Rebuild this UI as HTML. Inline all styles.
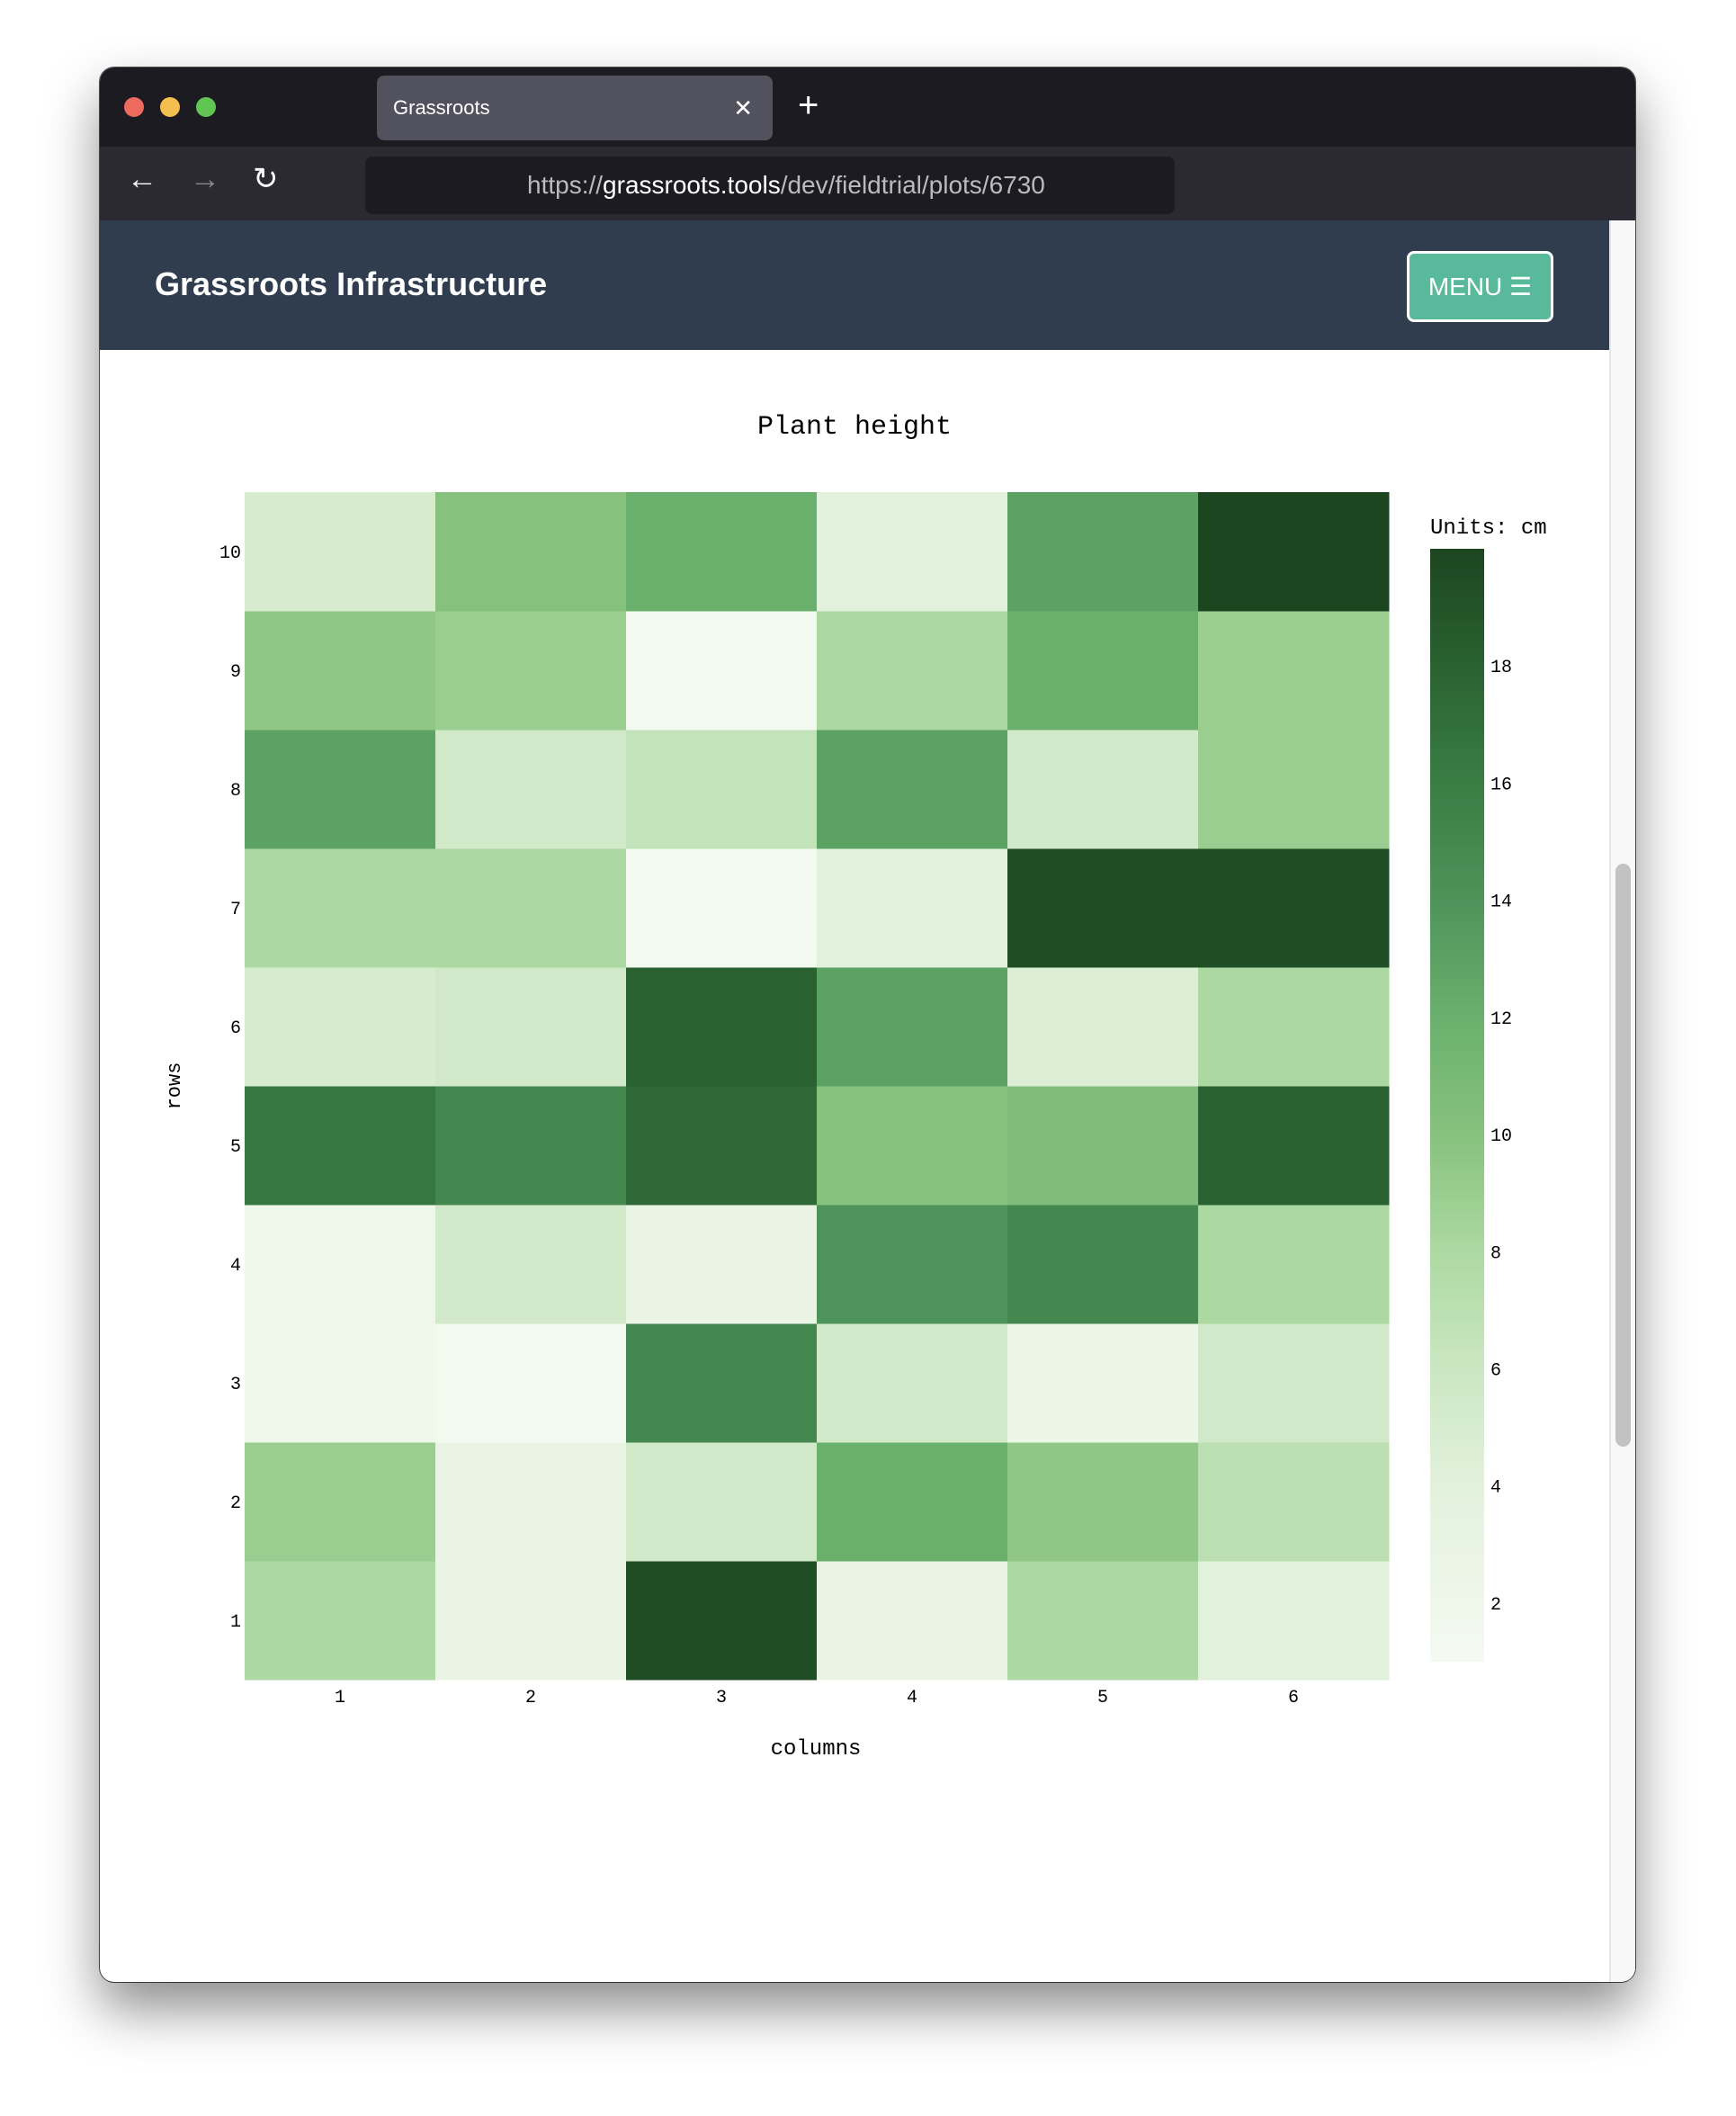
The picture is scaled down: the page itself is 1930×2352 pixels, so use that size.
<!DOCTYPE html>
<html><head><meta charset="utf-8"><style>
body{margin:0;width:1930px;height:2352px;background:#fff;position:relative;overflow:hidden;font-family:"Liberation Sans",sans-serif}
.abs{position:absolute}
#win{left:111px;top:75px;width:1707px;height:2128px;border-radius:16px;background:#fff;box-shadow:0 30px 60px rgba(0,0,0,.45),0 0 0 1px #555;overflow:hidden}
.mono{font-family:"Liberation Mono",monospace;color:#222}
</style></head><body>
<div id="win" class="abs">
 <div class="abs" style="left:0;top:0;width:1707px;height:88px;background:#1c1b22"></div>
 <div class="abs" style="left:27px;top:33px;width:22px;height:22px;border-radius:50%;background:#ed6a5e"></div>
 <div class="abs" style="left:67px;top:33px;width:22px;height:22px;border-radius:50%;background:#f4bf4f"></div>
 <div class="abs" style="left:107px;top:33px;width:22px;height:22px;border-radius:50%;background:#61c554"></div>
 <div class="abs" style="left:308px;top:9px;width:440px;height:72px;border-radius:8px;background:#52515e;color:#fff;font-size:22px;line-height:72px;text-indent:18px">Grassroots<span style="position:absolute;right:22px;font-size:26px">✕</span></div>
 <div class="abs" style="left:776px;top:20px;color:#fff;font-size:40px">+</div>
 <div class="abs" style="left:0;top:88px;width:1707px;height:82px;background:#2b2a33"></div>
 <div class="abs" style="left:30px;top:104px;color:#fbfbfe;font-size:34px;letter-spacing:36px">←<span style="color:#888">→</span>↻</div>
 <div class="abs" style="left:295px;top:99px;width:900px;height:64px;border-radius:8px;background:#1c1b22;color:#bbb;font-size:28px;line-height:64px;text-indent:180px;white-space:nowrap;overflow:hidden">https://<span style="color:#fff">grassroots.tools</span>/dev/fieldtrial/plots/6730</div>
 <div class="abs" style="left:0;top:170px;width:1678px;height:144px;background:#2f3d4f"></div>
 <div class="abs" style="left:61px;top:220px;color:#fff;font-size:36px;font-weight:bold">Grassroots Infrastructure</div>
 <div class="abs" style="left:1453px;top:204px;width:157px;height:73px;border:3px solid #fff;border-radius:8px;background:#58ba9b;color:#fff;font-size:28px;line-height:73px;text-align:center">MENU ☰</div>
 <div class="abs" style="left:1678px;top:170px;width:29px;height:1958px;background:#f8f8f8;border-left:2px solid #e6e6e6"></div>
 <div class="abs" style="left:1685px;top:885px;width:17px;height:648px;border-radius:9px;background:#c2c2c2"></div>
</div>
<svg class="abs" style="left:0;top:0" width="1930" height="2352">
 <defs><linearGradient id="cb" x1="0" y1="1" x2="0" y2="0">
 <stop offset="0" stop-color="#f5faf2"/><stop offset="0.16" stop-color="#e2f1dc"/><stop offset="0.27" stop-color="#c9e6c0"/><stop offset="0.37" stop-color="#acd9a1"/><stop offset="0.47" stop-color="#88c27f"/><stop offset="0.58" stop-color="#6ab06d"/><stop offset="0.68" stop-color="#4f945a"/><stop offset="0.79" stop-color="#3a7d44"/><stop offset="0.9" stop-color="#296030"/><stop offset="1" stop-color="#1c4620"/></linearGradient></defs>
 <text x="950" y="482" text-anchor="middle" class="mono" style="font-size:30px">Plant height</text>
 <g id="cells"></g><g id="ticks"></g>
 <text transform="translate(200,1207) rotate(-90)" text-anchor="middle" class="mono" style="font-size:22px">rows</text>
 <text x="907" y="1950" text-anchor="middle" class="mono" style="font-size:24px">columns</text>
 <text x="1590" y="593" class="mono" style="font-size:24px">Units: cm</text>
 <rect x="1590" y="610" width="60" height="1237" fill="url(#cb)"/>
 <g id="cbticks"></g>
</svg>
<script>
const columns=[1,2,3,4,5,6];
const rows=[1,2,3,4,5,6,7,8,9,10];
// values[rowIndex] for rows 1..10, columns 1..6
const values=[
 [8,3,19.5,3,8,4],
 [9,3,5.5,12,9.5,7],
 [2,1.5,15,5.5,2.5,5.5],
 [2,5.5,3,14,15,8],
 [16.5,15,17.5,10,10.5,18],
 [5,5.5,18,13,4.5,8],
 [8,8,1.5,4,19.5,19.5],
 [13,5.5,6.5,13,5.5,9],
 [9.5,9,1.5,8,12,9],
 [5,10,12,4,13,20]
];
const cbTicks=[2,4,6,8,10,12,14,16,18];
const zmin=1,zmax=20;
const X0=272,X1=1544,Y0=547,Y1=1867,CB0=610,CB1=1847;
const stops=[[0,[245,250,242]],[0.16,[226,241,220]],[0.27,[201,230,192]],[0.37,[172,217,161]],[0.47,[136,194,127]],[0.58,[106,176,109]],[0.68,[79,148,90]],[0.79,[58,125,68]],[0.9,[41,96,48]],[1,[28,70,32]]];
function color(v){let t=Math.max(0,Math.min(1,(v-zmin)/(zmax-zmin)));for(let i=1;i<stops.length;i++){if(t<=stops[i][0]){const a=stops[i-1],b=stops[i],f=(t-a[0])/(b[0]-a[0]);return 'rgb('+a[1].map((c,k)=>Math.round(c+(b[1][k]-c)*f)).join(',')+')';}}return 'rgb(28,70,32)';}
const cw=(X1-X0)/columns.length,rh=(Y1-Y0)/rows.length;
const xPos=c=>X0+(c-1)*cw, yPos=r=>Y1-r*rh, cbY=v=>CB1-(v-zmin)/(zmax-zmin)*(CB1-CB0);
const NS='http://www.w3.org/2000/svg';
const cells=document.getElementById('cells'),ticks=document.getElementById('ticks'),cbt=document.getElementById('cbticks');
rows.forEach((r,ri)=>columns.forEach((c,ci)=>{const e=document.createElementNS(NS,'rect');
e.setAttribute('x',xPos(c));e.setAttribute('y',yPos(r));e.setAttribute('width',cw+0.5);e.setAttribute('height',rh+0.5);e.setAttribute('fill',color(values[ri][ci]));


cells.appendChild(e);}));
function txt(p,x,y,s,anchor){const t=document.createElementNS(NS,'text');t.setAttribute('x',x);t.setAttribute('y',y);t.setAttribute('text-anchor',anchor);t.setAttribute('class','mono');t.setAttribute('style','font-size:20px');t.textContent=s;p.appendChild(t);return t;}
rows.forEach(r=>{const t=txt(ticks,268,yPos(r)+rh/2+7,r,'end');

});
columns.forEach(c=>{const t=txt(ticks,xPos(c)+cw/2,1892,c,'middle');

});
cbTicks.forEach(v=>{const t=txt(cbt,1657,cbY(v)+7,v,'start');

});
</script>
</body></html>
